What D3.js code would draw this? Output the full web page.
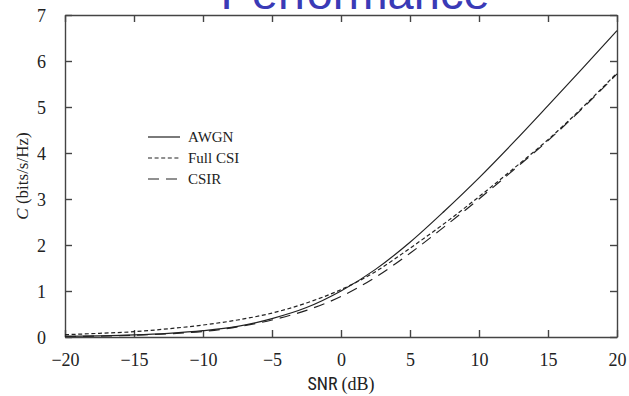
<!DOCTYPE html>
<html>
<head>
<meta charset="utf-8">
<script src="https://cdn.jsdelivr.net/npm/d3@7"></script>
<style>
  body { margin: 0; background: #fff; }
  svg { display: block; }
</style>
</head>
<body>
<div id="chart"></div>
<script>
// values
const snr = [-20, -17.5, -15, -12.5, -10, -7.5, -5, -2.5, 0, 2.5, 5, 7.5, 10, 12.5, 15, 17.5, 20];
const awgn    = [0.014, 0.026, 0.045, 0.08, 0.137, 0.23, 0.40, 0.64, 1.0, 1.47, 2.06, 2.74, 3.46, 4.23, 5.03, 5.84, 6.66];
const fullCsi = [0.05, 0.08, 0.115, 0.18, 0.26, 0.37, 0.52, 0.74, 1.03, 1.42, 1.93, 2.47, 3.05, 3.66, 4.29, 4.99, 5.74];
const csir    = [0.012, 0.02, 0.04, 0.07, 0.12, 0.22, 0.37, 0.58, 0.88, 1.30, 1.82, 2.40, 3.0, 3.63, 4.27, 4.97, 5.72];
const xTicks = [-20, -15, -10, -5, 0, 5, 10, 15, 20];
const yTicks = [0, 1, 2, 3, 4, 5, 6, 7];
const seriesNames = ["AWGN", "Full CSI", "CSIR"];
const dashes = [null, "4,2.6", "11,7"];

const width = 629, height = 396;
const margin = {top: 15, right: 12, bottom: 59, left: 65};

const svg = d3.select("#chart").append("svg")
    .attr("width", width)
    .attr("height", height);

// slide title, cut off by the top edge as in the original
svg.append("text")
    .attr("x", 355)
    .attr("y", 9)
    .attr("text-anchor", "middle")
    .style("font-family", "'Liberation Sans', Arial, sans-serif")
    .style("font-size", "47px")
    .style("fill", "#3a3ab6")
    .text("Performance");

const x = d3.scaleLinear().domain([-20, 20]).range([margin.left, width - margin.right]);
const y = d3.scaleLinear().domain([0, 7]).range([height - margin.bottom, margin.top]);

const axisColor = "#444";
const tickFont = "'Liberation Serif', 'Times New Roman', serif";

// axes with inward ticks on all four sides
const axBottom = svg.append("g")
    .attr("transform", `translate(0,${y(0)})`)
    .call(d3.axisBottom(x).tickValues(xTicks).tickSizeInner(-7).tickSizeOuter(0).tickPadding(16));
const axTop = svg.append("g")
    .attr("transform", `translate(0,${y(7)})`)
    .call(d3.axisTop(x).tickValues(xTicks).tickSizeInner(-7).tickSizeOuter(0).tickFormat(""));
const axLeft = svg.append("g")
    .attr("transform", `translate(${x(-20)},0)`)
    .call(d3.axisLeft(y).tickValues(yTicks).tickFormat(d3.format("d")).tickSizeInner(-7).tickSizeOuter(0).tickPadding(19));
const axRight = svg.append("g")
    .attr("transform", `translate(${x(20)},0)`)
    .call(d3.axisRight(y).tickValues(yTicks).tickSizeInner(-7).tickSizeOuter(0).tickFormat(""));

[axBottom, axTop, axLeft, axRight].forEach(g => {
    g.selectAll("path, line").attr("stroke", axisColor).attr("stroke-width", 1.4);
    g.selectAll("text")
        .style("font-family", tickFont)
        .style("font-size", "18px")
        .attr("fill", "#222");
});
axLeft.selectAll("text").attr("dy", "0.36em");

// curves
const line = d3.line()
    .x((d, i) => x(snr[i]))
    .y(d => y(d))
    .curve(d3.curveMonotoneX);

[awgn, fullCsi, csir].forEach((vals, k) => {
    svg.append("path")
        .datum(vals)
        .attr("d", line)
        .attr("fill", "none")
        .attr("stroke", "#222")
        .attr("stroke-width", 1.2)
        .attr("stroke-dasharray", dashes[k]);
});

// legend
const legend = svg.append("g");
seriesNames.forEach((name, k) => {
    const ly = 137 + k * 21;
    legend.append("line")
        .attr("x1", 148).attr("x2", 180)
        .attr("y1", ly).attr("y2", ly)
        .attr("stroke", "#222")
        .attr("stroke-width", 1.2)
        .attr("stroke-dasharray", dashes[k]);
    legend.append("text")
        .attr("x", 188)
        .attr("y", ly)
        .attr("dy", "0.35em")
        .style("font-family", tickFont)
        .style("font-size", "15px")
        .attr("fill", "#222")
        .text(name);
});

// axis titles
const xt = svg.append("text")
    .attr("x", x(0))
    .attr("y", 390)
    .attr("text-anchor", "middle")
    .attr("fill", "#222")
    .style("font-size", "18px");
xt.append("tspan")
    .style("font-family", "'Liberation Sans Narrow', 'Roboto Condensed', 'Liberation Sans', sans-serif")
    .text("SNR ");
xt.append("tspan")
    .style("font-family", tickFont)
    .text("(dB)");

const yt = svg.append("text")
    .attr("transform", `translate(28,${(y(0) + y(7)) / 2}) rotate(-90)`)
    .attr("text-anchor", "middle")
    .attr("fill", "#222")
    .style("font-family", tickFont)
    .style("font-size", "17px");
yt.append("tspan").style("font-style", "italic").text("C");
yt.append("tspan").text(" (bits/s/Hz)");
</script>
</body>
</html>
